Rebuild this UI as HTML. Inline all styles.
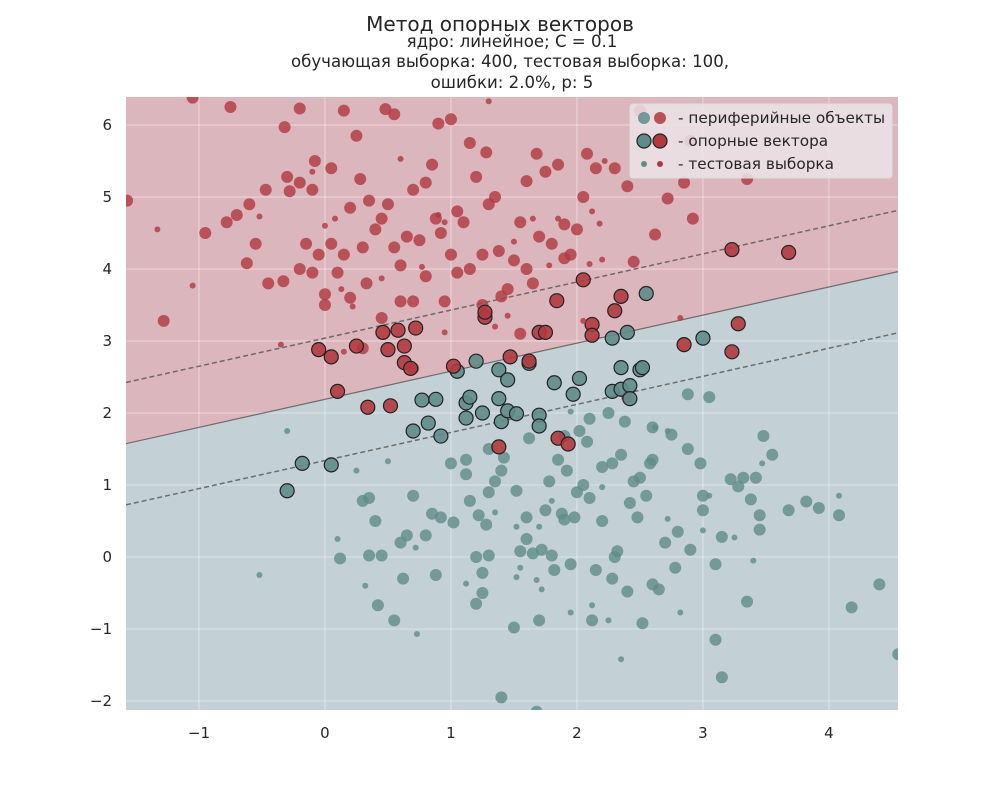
<!DOCTYPE html>
<html><head><meta charset="utf-8">
<style>
body{margin:0;background:#fff;font-family:"Liberation Sans","DejaVu Sans",sans-serif;}
svg text{font-family:"DejaVu Sans","Liberation Sans",sans-serif;fill:#262626;}
</style></head>
<body>
<svg id="chart" width="1000" height="800" xmlns="http://www.w3.org/2000/svg">
<text x="500" y="31" font-size="20" text-anchor="middle">Метод опорных векторов</text>
<text x="512" y="47" font-size="16.6" text-anchor="middle">ядро: линейное; C = 0.1</text>
<text x="510" y="67" font-size="16.6" text-anchor="middle">обучающая выборка: 400, тестовая выборка: 100,</text>
<text x="512" y="88" font-size="16.6" text-anchor="middle">ошибки: 2.0%, p: 5</text>
<defs><clipPath id="clip"><rect x="126" y="97" width="772" height="613"/></clipPath></defs>
<g id="plot" clip-path="url(#clip)"></g>
<g id="axes"></g>
<g>
<rect x="630" y="104" width="262" height="74" rx="3" fill="#ebe4e9" fill-opacity="0.85" stroke="#ddd"/>
<circle cx="644" cy="118" r="6" fill="#5f8c88" fill-opacity="0.85"/><circle cx="660" cy="118" r="6" fill="#b03a3e" fill-opacity="0.85"/>
<text x="678" y="123" font-size="15.3">- периферийные объекты</text>
<circle cx="644" cy="141" r="7" fill="#5f8c88" stroke="#222" stroke-width="1.2"/><circle cx="660" cy="141" r="7" fill="#b03a3e" stroke="#222" stroke-width="1.2"/>
<text x="678" y="146" font-size="15.3">- опорные вектора</text>
<circle cx="644" cy="164" r="3" fill="#5f8c88"/><circle cx="660" cy="164" r="3" fill="#b03a3e"/>
<text x="678" y="169" font-size="15.3">- тестовая выборка</text>
</g>
</svg>
<script>
const xTicks=[-1,0,1,2,3,4];
const yTicks=[-2,-1,0,1,2,3,4,5,6];
const boundarySlope=0.39, boundaryIntercept=2.19, marginOffset=0.85;
const redTrain=[[-1.57,4.95],[-1.28,3.28],[-1.05,6.38],[-0.95,4.5],[-0.78,4.65],[-0.75,6.25],[-0.7,4.75],[-0.6,4.9],[-0.62,4.08],[-0.55,4.35],[-0.47,5.1],[-0.45,3.8],[-0.33,3.83],[-0.32,5.97],[-0.3,5.28],[-0.28,5.08],[-0.2,6.23],[-0.2,5.2],[-0.2,4.0],[-0.15,4.35],[-0.08,5.5],[-0.1,5.1],[-0.05,4.2],[0,3.5],[0.05,5.4],[0.05,4.35],[0.1,3.95],[0.15,6.2],[0.2,4.85],[0.2,3.6],[0.25,5.85],[0.28,5.25],[0.3,4.3],[0.33,3.8],[0.35,4.95],[0.4,4.55],[0.45,3.32],[0.48,6.22],[0.5,4.9],[0.55,6.15],[0.55,4.3],[0.6,4.05],[0.65,4.45],[0.7,3.55],[0.7,5.1],[0.8,5.2],[0.8,3.9],[0.85,5.45],[0.88,4.7],[0.9,6.02],[0.95,3.55],[0.92,4.5],[1.0,6.08],[1.05,4.8],[1.1,4.65],[1.15,5.75],[1.2,5.28],[1.25,4.2],[1.28,5.62],[1.35,5.0],[1.38,4.25],[1.45,3.72],[1.5,4.12],[1.55,4.65],[1.6,5.22],[1.65,3.8],[1.68,5.6],[1.7,4.45],[1.75,5.35],[1.8,4.35],[1.85,5.45],[1.9,4.62],[1.95,4.2],[2.05,5.0],[2.08,5.6],[2.15,5.4],[2.3,5.4],[2.4,5.15],[2.45,4.1],[2.5,6.2],[2.62,4.48],[2.72,4.98],[2.85,5.2],[2.9,5.78],[2.92,4.7],[3.35,5.25],[1.55,3.1],[1.05,3.95],[0.6,3.55],[1.25,3.5],[0.0,3.65],[0.3,2.9],[2.4,2.22],[0.7,2.62],[1.4,3.62],[1.0,4.2],[0.75,4.4],[1.15,4.0],[1.3,4.9],[1.6,4.0],[0.45,4.7],[0.15,4.2],[-0.1,3.95],[1.9,4.15],[2.0,4.55]];
const greenTrain=[[0.12,-0.02],[0.3,0.78],[0.35,0.02],[0.35,0.82],[0.4,0.5],[0.42,-0.67],[0.45,0.02],[0.55,-0.88],[0.6,0.2],[0.62,-0.3],[0.65,0.3],[0.7,0.85],[0.8,0.3],[0.85,0.6],[0.88,-0.25],[0.92,0.55],[1.02,0.48],[1.12,1.35],[1.12,1.15],[1.15,0.78],[1.2,0.0],[1.2,-0.65],[1.22,0.58],[1.25,-0.5],[1.25,-0.22],[1.28,0.45],[1.3,0.02],[1.3,0.9],[1.35,1.05],[1.4,-1.95],[1.42,1.38],[1.5,-0.98],[1.52,0.92],[1.55,0.08],[1.6,0.25],[1.62,1.65],[1.65,0.05],[1.68,-2.15],[1.7,-0.88],[1.72,0.1],[1.75,0.65],[1.78,1.05],[1.8,0.02],[1.82,-0.18],[1.85,1.35],[1.88,0.6],[1.9,0.52],[1.92,1.2],[1.95,-0.1],[1.98,0.55],[2.0,0.9],[2.02,1.75],[2.05,1.0],[2.08,1.6],[2.1,0.82],[2.12,-0.88],[2.15,-0.18],[2.2,0.5],[2.25,2.0],[2.28,1.3],[2.28,-0.3],[2.3,0.0],[2.32,0.08],[2.35,1.42],[2.38,1.88],[2.4,-0.48],[2.42,0.75],[2.45,1.05],[2.48,0.55],[2.52,-0.92],[2.55,0.85],[2.58,1.3],[2.6,-0.38],[2.65,-0.45],[2.7,0.2],[2.75,1.7],[2.78,-0.15],[2.8,0.35],[2.88,1.5],[2.9,0.1],[2.98,1.3],[3.0,0.85],[3.0,0.65],[3.05,2.22],[3.1,-0.1],[3.1,-1.15],[3.15,0.28],[3.15,-1.67],[3.22,1.08],[3.28,0.98],[3.32,1.1],[3.35,-0.62],[3.38,0.8],[3.42,1.1],[3.45,0.38],[3.45,0.58],[3.48,1.68],[3.55,1.42],[3.68,0.65],[3.82,0.77],[3.92,0.68],[4.08,0.58],[4.18,-0.7],[4.4,-0.38],[4.55,-1.35],[2.88,2.26],[2.6,1.8],[1.9,1.68],[2.1,1.92],[1.4,1.2],[1.6,0.55],[2.2,1.25],[2.5,1.1],[1.0,1.3],[1.3,1.5],[2.6,1.35]];
const redSupport=[[0.05,2.78],[-0.05,2.88],[0.1,2.3],[0.25,2.93],[0.34,2.08],[0.46,3.12],[0.5,2.88],[0.52,2.1],[0.58,3.15],[0.63,2.93],[0.63,2.7],[0.68,2.62],[0.72,3.18],[1.02,2.65],[1.27,3.33],[1.27,3.4],[1.38,1.53],[1.47,2.78],[1.62,2.72],[1.7,3.12],[1.75,3.12],[1.84,3.56],[1.85,1.65],[1.93,1.57],[2.05,3.85],[2.12,3.23],[2.12,3.08],[2.3,3.42],[2.35,3.62],[2.85,2.95],[3.23,2.85],[3.28,3.24],[3.23,4.27],[3.68,4.23]];
const greenSupport=[[-0.3,0.92],[-0.18,1.3],[0.05,1.28],[0.7,1.75],[0.77,2.18],[0.82,1.86],[0.88,2.19],[0.92,1.68],[1.05,2.58],[1.12,1.93],[1.12,2.14],[1.15,2.22],[1.2,2.72],[1.25,2.0],[1.38,2.6],[1.38,2.2],[1.4,1.88],[1.45,2.46],[1.45,2.03],[1.52,1.99],[1.62,2.69],[1.7,1.97],[1.7,1.82],[1.82,2.42],[1.97,2.26],[2.02,2.48],[2.28,3.04],[2.28,2.3],[2.35,2.33],[2.35,2.63],[2.4,3.12],[2.42,2.38],[2.42,2.2],[2.5,2.6],[2.52,2.63],[2.55,3.66],[3.0,3.04]];
const redTest=[[-1.33,4.55],[-1.05,3.77],[-0.52,4.73],[-0.35,2.95],[-0.1,5.35],[0.0,4.6],[0.08,4.7],[0.13,3.72],[0.15,2.85],[0.22,3.48],[0.45,3.87],[0.6,5.53],[0.77,4.03],[0.95,3.12],[0.95,4.65],[1.3,6.33],[1.35,3.2],[1.45,3.35],[1.5,4.38],[1.65,4.7],[1.85,4.7],[2.05,3.28],[2.1,4.07],[2.12,4.8],[2.18,4.63],[2.22,5.5],[2.2,4.13],[2.82,3.32],[1.78,4.05],[0.9,4.75]];
const greenTest=[[-0.52,-0.25],[-0.3,1.75],[0.1,0.25],[0.25,1.2],[0.32,-0.4],[0.5,1.33],[0.72,0.13],[0.73,-1.07],[1.12,-0.37],[1.35,0.62],[1.52,0.42],[1.52,-0.28],[1.55,-0.15],[1.68,-0.32],[1.7,0.42],[1.72,-0.45],[1.8,0.78],[1.95,-0.77],[1.95,2.02],[2.12,-0.67],[2.25,-0.88],[2.35,-1.42],[2.62,1.8],[2.72,0.53],[2.82,-0.77],[3.0,0.37],[3.05,0.85],[3.25,0.27],[3.4,-0.05],[3.47,1.3],[4.08,0.85],[2.72,1.75],[2.2,0.97]];

const X0=126,X1=898,Y0=97,Y1=710;
const xmin=-1.579,xmax=4.548,ymin=-2.125,ymax=6.389;
const sx=v=>X0+(v-xmin)/(xmax-xmin)*(X1-X0);
const sy=v=>Y1-(v-ymin)/(ymax-ymin)*(Y1-Y0);
const NS="http://www.w3.org/2000/svg";
const plot=document.getElementById('plot'), axes=document.getElementById('axes');
function mk(tag,attrs,parent){const e=document.createElementNS(NS,tag);for(const k in attrs)e.setAttribute(k,attrs[k]);parent.appendChild(e);return e;}
const line=(x,o)=>boundarySlope*x+boundaryIntercept+o;
const bg=mk('rect',{x:X0,y:Y0,width:X1-X0,height:Y1-Y0,fill:'#c3d0d5'},plot);


const up=mk('polygon',{points:`${X0},${Y0} ${X1},${Y0} ${X1},${sy(line(xmax,0))} ${X0},${sy(line(xmin,0))}`,fill:'#dcb6bd'},plot);


xTicks.forEach(t=>{const g=mk('line',{x1:sx(t),x2:sx(t),y1:Y0,y2:Y1,stroke:'#fff','stroke-opacity':0.45,'stroke-width':1},plot);

});
yTicks.forEach(t=>{const g=mk('line',{x1:X0,x2:X1,y1:sy(t),y2:sy(t),stroke:'#fff','stroke-opacity':0.45,'stroke-width':1},plot);

});
[[-marginOffset,'5,3'],[0,'5,3'],[marginOffset,'5,3']].forEach(([o,d],i)=>{
const l=mk('line',{x1:X0,y1:sy(line(xmin,o)),x2:X1,y2:sy(line(xmax,o)),stroke:'#555','stroke-width':i==1?1.2:1.5,'stroke-dasharray':i==1?'none':d,'stroke-opacity':0.8},plot);

});
function pts(arr,fill,r,stroke,name){arr.forEach(p=>{const c=mk('circle',{cx:sx(p[0]),cy:sy(p[1]),r:r,fill:fill,'fill-opacity':stroke?0.9:0.8},plot);
if(stroke){c.setAttribute('stroke',stroke);c.setAttribute('stroke-width',1.2);}

});}
pts(greenTrain,'#5f8c88',6,null,'train-point-green');
pts(redTrain,'#b03a3e',6,null,'train-point-red');
pts(greenSupport,'#5f8c88',7,'#222','support-vector-green');
pts(redSupport,'#b03a3e',7,'#222','support-vector-red');
pts(greenTest,'#5f8c88',3,null,'test-point-green');
pts(redTest,'#b03a3e',3,null,'test-point-red');
xTicks.forEach(t=>{const e=mk('text',{x:sx(t),y:738,'font-size':15,'text-anchor':'middle'},axes);e.textContent=t<0?'\u2212'+(-t):t;

});
yTicks.forEach(t=>{const e=mk('text',{x:112,y:sy(t)+5,'font-size':15,'text-anchor':'end'},axes);e.textContent=t<0?'\u2212'+(-t):t;

});
</script>
</body></html>
